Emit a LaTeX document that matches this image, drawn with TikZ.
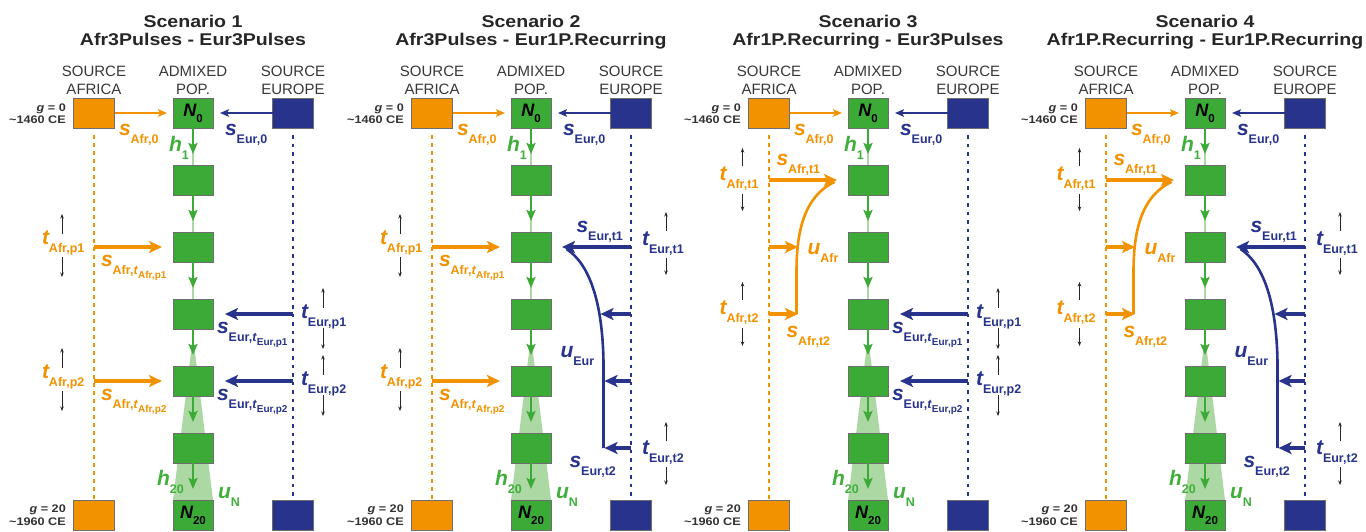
\documentclass[tikz,border=0pt]{standalone}
\usepackage{fontspec}
\setmainfont{Liberation Sans}
\newfontfamily\widefont[FakeStretch=1.15]{Liberation Sans}
\usetikzlibrary{arrows.meta}
\definecolor{cOr}{RGB}{243,146,0}
\definecolor{cBl}{RGB}{40,52,140}
\definecolor{cGr}{RGB}{60,170,55}
\definecolor{cGrT}{RGB}{65,175,60}
\definecolor{cLg}{RGB}{172,216,163}
\definecolor{cBd}{RGB}{110,110,110}
\newcommand\LbBig[1]{{\fontsize{21}{21}\selectfont\bfseries\itshape #1}}
\newcommand\LbSub[1]{\raisebox{-8pt}{\fontsize{12.5}{12.5}\selectfont\bfseries #1}}
\newcommand\LbSubSub[1]{\raisebox{-4pt}{\fontsize{10}{10}\selectfont\bfseries #1}}
\newcommand\LbT{\textit{t}}
\newcommand\LbN[1]{{\fontsize{18}{18}\selectfont\bfseries\itshape N}\raisebox{-6pt}{\fontsize{11.5}{11.5}\selectfont\bfseries #1}}
\tikzset{
 gbox/.style={draw=cBd, line width=0.6pt, fill=cGr, minimum width=40pt, minimum height=30pt, inner sep=0pt, outer sep=0pt},
 obox/.style={gbox, fill=cOr, minimum width=41pt},
 bbox/.style={gbox, fill=cBl, minimum width=41pt},
 lab/.style={anchor=base west, inner sep=0pt, outer sep=0pt},
 hdr/.style={anchor=base, inner sep=0pt, font=\fontsize{15}{15}\selectfont, text=black!78},
 ttl/.style={anchor=base, inner sep=0pt, font=\widefont\bfseries\fontsize{17}{17}\selectfont, text=black!85},
 glab/.style={anchor=base east, inner sep=0pt, font=\widefont\bfseries\fontsize{11}{11}\selectfont, text=black!80},
 lgline/.style={draw=cLg, line width=2.4pt},
 garrow/.style={draw=cGr, line width=2.2pt, -{Stealth[length=11pt,width=9pt,inset=2pt]}},
 othin/.style={draw=cOr, line width=2pt, -{Stealth[length=9pt,width=7.5pt,inset=2pt]}},
 bthin/.style={othin, draw=cBl},
 othick/.style={draw=cOr, line width=3.8pt, -{Stealth[length=13pt,width=12pt,inset=3pt]}},
 bthick/.style={othick, draw=cBl},
 ocurve/.style={draw=cOr, line width=2.6pt},
 bcurve/.style={draw=cBl, line width=2.6pt},
 odash/.style={draw=cOr, line width=2pt, dash pattern=on 4pt off 4pt},
 bdash/.style={draw=cBl, line width=2pt, dash pattern=on 3.5pt off 5pt},
 tarr/.style={draw=black!85, line width=1pt, -{Stealth[length=4.5pt,width=3.5pt]}},
}
\newcommand\ScenBase[3]{%
 \node[ttl] (#1tA) at (193,27) {Scenario #2};
 \node[ttl] (#1tB) at (193,45) {#3};
 \node[hdr] (#1hA1) at (94,76) {SOURCE};
 \node[hdr] (#1hA2) at (94,94) {AFRICA};
 \node[hdr] (#1hM1) at (193,76) {ADMIXED};
 \node[hdr] (#1hM2) at (193,94) {POP.};
 \node[hdr] (#1hE1) at (293,76) {SOURCE};
 \node[hdr] (#1hE2) at (293,94) {EUROPE};
 \node[glab] (#1gA) at (66,111) {\textit{g} = 0};
 \node[glab] (#1gB) at (66,123) {\textasciitilde 1460 CE};
 \node[glab] (#1gC) at (66,512) {\textit{g} = 20};
 \node[glab] (#1gD) at (66,525) {\textasciitilde 1960 CE};
 \fill[cLg] (193,336) -- (173,500) -- (213,500) -- cycle;
 \node[obox] (#1afr) at (94,113) {};
 \node[obox] (#1afrB) at (94,515) {};
 \node[bbox] (#1eur) at (293,113) {};
 \node[bbox] (#1eurB) at (293,515) {};
 \node[gbox, text=black] (#1m0) at (193,113) {\LbN{0}};
 \foreach \k in {1,...,5} {\node[gbox] (#1m\k) at (193,{113+67*\k}) {};}
 \node[gbox, text=black] (#1m6) at (193,515) {\LbN{20}};
 \foreach \k [evaluate=\k as \n using int(\k+1)] in {0,...,5} {
   \draw[lgline] (#1m\k.south) -- (#1m\n.north);
   \draw[garrow] (#1m\k.south) -- ([yshift=11pt]#1m\n.north);
 }
 \draw[odash] ([yshift=-7pt]#1afr.south) -- (#1afrB.north);
 \draw[bdash] ([yshift=-7pt]#1eur.south) -- (#1eurB.north);
 \draw[othin] (#1afr.east) -- ([xshift=-6pt]#1m0.west);
 \draw[bthin] (#1eur.west) -- ([xshift=7pt]#1m0.east);
 \node[lab,text=cOr] (#1sA0) at (119,135) {\LbBig{s}\LbSub{Afr,0}};
 \node[lab,text=cBl] (#1sE0) at (225,135) {\LbBig{s}\LbSub{Eur,0}};
 \node[lab,text=cGrT] (#1h1) at (169,151) {\LbBig{h}\LbSub{1}};
 \node[lab,text=cGrT] (#1h20) at (157,485) {\LbBig{h}\LbSub{20}};
 \node[lab,text=cGrT] (#1uN) at (218,498) {\LbBig{u}\LbSub{N}};
}
\newcommand\AfrPulse[4]{%
 \coordinate (#1aP#2) at (94,#3);
 \draw[othick] (#1aP#2) -- ([xshift=-11pt]#1m#2.west);
 \node[lab,text=cOr] (#1aT#2) at (42,{#3-3}) {\LbBig{t}\LbSub{Afr,#4}};
 \draw[tarr] (62,{#3-13}) -- (62,{#3-33});
 \draw[tarr] (62,{#3+10}) -- (62,{#3+30});
 \node[lab,text=cOr] (#1aS#2) at (101,{#3+19}) {\LbBig{s}\LbSub{Afr,\LbT\LbSubSub{Afr,#4}}};
}
\newcommand\EurPulse[4]{%
 \coordinate (#1eP#2) at (293,#3);
 \draw[bthick] (#1eP#2) -- ([xshift=12pt]#1m#2.east);
 \node[lab,text=cBl] (#1eT#2) at (301,{#3+4}) {\LbBig{t}\LbSub{Eur,#4}};
 \draw[tarr] (323,{#3-6}) -- (323,{#3-26});
 \draw[tarr] (323,{#3+14}) -- (323,{#3+35});
 \node[lab,text=cBl] (#1eS#2) at (217,{#3+19}) {\LbBig{s}\LbSub{Eur,\LbT\LbSubSub{Eur,#4}}};
}
\newcommand\AfrRec[1]{%
 \coordinate (#1aR1) at (94,180);
 \coordinate (#1aR2) at (94,247);
 \coordinate (#1aR3) at (94,314);
 \coordinate (#1aC2) at (123,247);
 \coordinate (#1aC3) at (123,314);
 \coordinate (#1aK0) at (159.5,182);
 \coordinate (#1aK1) at (121.5,271);
 \coordinate (#1aK2) at (121.5,314);
 \draw[ocurve] (#1aK0) .. controls (129.5,196) and (121.5,231) .. (#1aK1) -- (#1aK2);
 \draw[othick] (#1aR1) -- ([xshift=-11pt]#1m1.west);
 \draw[othick] (#1aR2) -- (#1aC2);
 \draw[othick] (#1aR3) -- (#1aC3);
 \node[lab,text=cOr] (#1aS1) at (101.5,165) {\LbBig{s}\LbSub{Afr,t1}};
 \node[lab,text=cOr] (#1aT1) at (44.5,180) {\LbBig{t}\LbSub{Afr,t1}};
 \draw[tarr] (67.5,166) -- (67.5,148);
 \draw[tarr] (67.5,194) -- (67.5,211);
 \node[lab,text=cOr] (#1aU) at (132.5,254) {\LbBig{u}\LbSub{Afr}};
 \node[lab,text=cOr] (#1aS2) at (111.5,337) {\LbBig{s}\LbSub{Afr,t2}};
 \node[lab,text=cOr] (#1aT2) at (44.5,314) {\LbBig{t}\LbSub{Afr,t2}};
 \draw[tarr] (67.5,300) -- (67.5,282);
 \draw[tarr] (67.5,328) -- (67.5,346);
}
\newcommand\EurRec[1]{%
 \coordinate (#1eR2) at (293,247);
 \coordinate (#1eR3) at (293,314);
 \coordinate (#1eR4) at (293,381);
 \coordinate (#1eR5) at (293,448);
 \coordinate (#1eC3) at (262.5,314);
 \coordinate (#1eC4) at (266.5,381);
 \coordinate (#1eC5) at (266.5,448);
 \coordinate (#1eK0) at (228.5,249);
 \coordinate (#1eK1) at (265.5,362);
 \coordinate (#1eK2) at (265.5,448);
 \draw[bcurve] (#1eK0) .. controls (251.5,264) and (264.5,302) .. (#1eK1) -- (#1eK2);
 \draw[bthick] (#1eR2) -- ([xshift=11pt]#1m2.east);
 \draw[bthick] (#1eR3) -- (#1eC3);
 \draw[bthick] (#1eR4) -- (#1eC4);
 \draw[bthick] (#1eR5) -- (#1eC5);
 \node[lab,text=cBl] (#1eS1) at (238.5,232) {\LbBig{s}\LbSub{Eur,t1}};
 \node[lab,text=cBl] (#1eT1) at (304,245) {\LbBig{t}\LbSub{Eur,t1}};
 \draw[tarr] (328,231) -- (328,212);
 \draw[tarr] (328,258) -- (328,275);
 \node[lab,text=cBl] (#1eU) at (222.5,357) {\LbBig{u}\LbSub{Eur}};
 \node[lab,text=cBl] (#1eS2) at (231.5,467) {\LbBig{s}\LbSub{Eur,t2}};
 \node[lab,text=cBl] (#1eT2) at (304,454) {\LbBig{t}\LbSub{Eur,t2}};
 \draw[tarr] (328,441) -- (328,422);
 \draw[tarr] (328,467) -- (328,485);
}
\begin{document}
\begin{tikzpicture}[x=1pt,y=-1pt]
\useasboundingbox (0,0) rectangle (1366,531);
\fill[white] (0,0) rectangle (1366,531);
\begin{scope}[shift={(0,0)}]
 \ScenBase{a}{1}{Afr3Pulses - Eur3Pulses}
 \AfrPulse{a}{2}{247}{p1}
 \AfrPulse{a}{4}{381}{p2}
 \EurPulse{a}{3}{314}{p1}
 \EurPulse{a}{4}{381}{p2}
\end{scope}
\begin{scope}[shift={(338,0)}]
 \ScenBase{b}{2}{Afr3Pulses - Eur1P.Recurring}
 \AfrPulse{b}{2}{247}{p1}
 \AfrPulse{b}{4}{381}{p2}
 \EurRec{b}
\end{scope}
\begin{scope}[shift={(675,0)}]
 \ScenBase{c}{3}{Afr1P.Recurring - Eur3Pulses}
 \AfrRec{c}
 \EurPulse{c}{3}{314}{p1}
 \EurPulse{c}{4}{381}{p2}
\end{scope}
\begin{scope}[shift={(1012,0)}]
 \ScenBase{d}{4}{Afr1P.Recurring - Eur1P.Recurring}
 \AfrRec{d}
 \EurRec{d}
\end{scope}
\end{tikzpicture}
\end{document}
